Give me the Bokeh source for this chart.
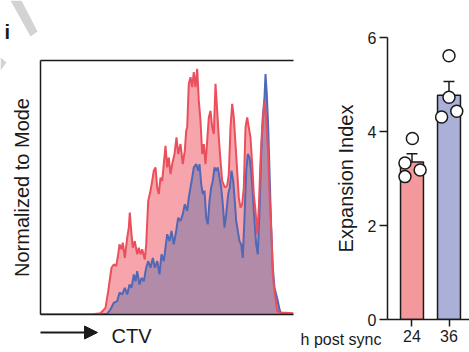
import numpy as np
from bokeh.plotting import figure
from bokeh.models import Range1d, LinearAxis, FixedTicker, Whisker, TeeHead, ColumnDataSource
from bokeh.core.properties import value
from bokeh.embed import file_html
from bokeh.resources import INLINE

# ---------------- data ----------------
# CTV histogram (channel, % of mode): 24 h (red) and 36 h (blue)
red_ctv = [0, 50, 60, 65, 67.7, 71, 73.3, 75.7, 77.7, 79, 81, 82.3, 84.3, 86.7, 88.3, 89.3,
           90.7, 92.3, 94.3, 96.7, 98.3, 100, 101.7, 104.3, 105.7, 107.7, 110, 111.7, 113.3,
           115, 116.7, 118.3, 120, 121.7, 123.3, 125, 126.7, 128.3, 130, 131.7, 134, 136,
           137.7, 140, 142.3, 144.3, 145.7, 146.7, 148.3, 150, 151.7, 153.3, 155, 156.7,
           158.3, 160, 161.7, 163.3, 165, 166.7, 168.3, 170, 171.7, 173.3, 175, 176.7, 178.3,
           180, 181.7, 184.3, 186.7, 188.3, 190, 191.7, 193.3, 195, 196.7, 198.3, 200, 201.7,
           203.3, 205, 206.7, 208.3, 210, 211.7, 213.3, 215, 216.7, 218.3, 220, 221.7, 224,
           225.7, 227.7, 229, 231, 232.3, 234.3, 236.7, 240, 245, 253]
red_count = [0, 0, 0.5, 2.6, 9.2, 18.4, 19.7, 19.1, 23.7, 27.6, 25.7, 28.3, 22.3, 30.2, 34.2, 40.1,
             32.9, 26.3, 28.9, 23.7, 26.3, 23.7, 25.7, 21.7, 27.6, 44.7, 48.7, 52.6, 56.6,
             57.9, 50.0, 47.4, 53.9, 52.6, 59.2, 66.4, 57.9, 61.8, 55.3, 59.2, 63.2, 69.7,
             63.2, 67.1, 59.2, 64.5, 72.4, 73.7, 90.8, 93.4, 89.5, 95.4, 89.5, 96.7,
             84.2, 76.3, 63.2, 67.1, 59.2, 68.4, 77.6, 80.2, 73.7, 71.1, 90.8, 80.2, 69.7,
             60.5, 52.6, 50.0, 50.7, 55.3, 73.7, 82.9, 77.6, 67.1, 56.6, 46.1, 42.1, 43.4,
             50.0, 73.7, 77.6, 73.7, 69.7, 59.2, 47.4, 40.8, 31.6, 42.1, 60.5, 73.7, 84.2,
             76.3, 63.2, 47.4, 31.6, 15.8, 7.9, 1.3, 0.7, 0.7, 0.5]
blue_ctv = [0, 60, 66.7, 70, 73.3, 76.7, 79, 81.7, 84.3, 86.7, 89, 91, 93.3, 95, 96.7, 99, 101,
            103.3, 105.7, 107.7, 110, 112.3, 114.3, 116.7, 119, 121, 123.3, 125, 126.7, 129,
            131, 133.3, 135.7, 137.7, 140, 142.3, 144.3, 146.7, 148.3, 150, 151.7, 153.3,
            155.7, 157.7, 159, 160.7, 162.3, 164, 165.7, 167.3, 169, 170.7, 172.3, 174,
            175.7, 177.3, 179, 180.7, 182.3, 184, 185.7, 187.7, 189.3, 191, 192.7, 194.3,
            195.7, 197.3, 199, 200.7, 202.3, 204, 205.7, 207.3, 209, 210.7, 212.3, 214,
            215.7, 217.3, 219, 220.7, 222.3, 224, 225, 226.3, 227.7, 229, 230.7, 232.3, 234,
            235.7, 237.3, 239, 240.7, 253]
blue_count = [0, 0, 0.3, 2.0, 4.6, 5.3, 8.6, 7.9, 10.5, 7.9, 11.8, 10.5, 15.8, 13.1, 17.1, 11.8, 14.4,
              13.1, 18.4, 21.0, 18.4, 22.3, 18.4, 21.0, 15.8, 23.7, 21.0, 26.3, 31.6, 28.9,
              32.9, 27.6, 32.9, 38.1, 36.8, 39.5, 43.4, 40.8, 46.0, 50.0, 53.9, 57.9,
              59.2, 56.6, 59.2, 51.3, 47.4, 48.7, 38.1, 35.5, 44.7, 50.0, 52.6, 57.9,
              56.6, 57.9, 53.9, 50.0, 43.4, 34.2, 39.5, 47.4, 50.0, 56.6, 52.6, 44.7,
              36.8, 32.9, 28.9, 27.6, 22.3, 38.1, 56.6, 63.2, 61.8, 56.6, 47.4, 36.8,
              27.6, 23.7, 40.8, 63.2, 77.6, 85.5, 94.7, 86.9, 73.7, 56.6, 34.2, 18.4, 10.5,
              7.9, 5.3, 2.0, 0.3, 0]

# Expansion index per replicate
groups = ["24", "36"]
group_pos = [1, 2]
expansion_24 = [3.85, 3.33, 3.04, 3.18]
expansion_36 = [5.61, 4.73, 4.31, 4.43]
jitter_24 = [0.01, -0.19, -0.19, 0.22]
jitter_36 = [0.0, 0.0, -0.2, 0.21]
x_group_title = "h post sync"

FONT = "Liberation Sans"
INK = "#1a1a1a"
RED_LINE = "#EC4F5C"
RED_FILL = "#F5A5AB"
BLUE_LINE = "#5068B6"
OVERLAP_FILL = "#B28BA9"
BAR_RED = "#F4999B"
BAR_BLUE = "#AAB0D8"


def place(fig, left, top):
    fig.styles = {"position": "absolute", "left": f"{left}px", "top": f"{top}px"}


# ---------------- left panel: histogram ----------------
p1 = figure(width=300, height=352, x_range=Range1d(0, 253), y_range=Range1d(0, 100),
            output_backend="svg", toolbar_location=None,
            min_border_left=40, min_border_right=7, min_border_top=60, min_border_bottom=38)
p1.outline_line_color = None
p1.grid.visible = False
p1.background_fill_color = None
p1.border_fill_color = None

p1.varea(x=red_ctv, y1=0, y2=red_count, fill_color=RED_FILL)
p1.varea(x=blue_ctv, y1=0, y2=blue_count, fill_color=OVERLAP_FILL)
p1.line(blue_ctv, blue_count, line_color=BLUE_LINE, line_width=2)
p1.line(red_ctv, red_count, line_color=RED_LINE, line_width=2)

for ax in [p1.xaxis[0], p1.yaxis[0]]:
    ax.ticker = FixedTicker(ticks=[])
    ax.axis_line_width = 1.5
    ax.axis_line_color = INK
    ax.major_tick_line_color = None
    ax.minor_tick_line_color = None
    ax.major_label_text_font_size = "0px"
p1.yaxis.axis_label = "Normalized to Mode"
p1.yaxis.axis_label_text_font = FONT
p1.yaxis.axis_label_text_font_size = "20px"
p1.yaxis.axis_label_text_font_style = "normal"
p1.yaxis.axis_label_text_color = INK
p1.yaxis.axis_label_standoff = 8
top_ax = LinearAxis(ticker=FixedTicker(ticks=[]), axis_line_width=1.5, axis_line_color=INK,
                    major_tick_line_color=None, minor_tick_line_color=None,
                    major_label_text_font_size="0px")
p1.add_layout(top_ax, "above")
place(p1, 0, 0)

# ---------------- right panel: bar chart ----------------
p2 = figure(width=169, height=352, x_range=Range1d(0.338, 2.554), y_range=Range1d(0, 6),
            output_backend="svg", toolbar_location=None,
            min_border_left=87, min_border_right=0, min_border_top=37, min_border_bottom=33)
p2.outline_line_color = None
p2.grid.visible = False
p2.background_fill_color = None
p2.border_fill_color = None

reps = [expansion_24, expansion_36]
means = [float(np.mean(r)) for r in reps]
sems = [float(np.std(r, ddof=1) / np.sqrt(len(r))) for r in reps]

p2.vbar(x=group_pos, top=means, width=0.62, bottom=0,
        fill_color=[BAR_RED, BAR_BLUE], line_color=INK, line_width=1.5)

wsrc = ColumnDataSource(dict(x=group_pos,
                             upper=[m + s for m, s in zip(means, sems)],
                             lower=[m - s for m, s in zip(means, sems)]))
p2.add_layout(Whisker(base="x", upper="upper", lower="lower", source=wsrc,
                      line_color=INK, line_width=1.5,
                      upper_head=TeeHead(size=11, line_color=INK, line_width=1.5),
                      lower_head=TeeHead(size=11, line_color=INK, line_width=1.5)))

px = [group_pos[0] + j for j in jitter_24] + [group_pos[1] + j for j in jitter_36]
py = expansion_24 + expansion_36
p2.scatter(px, py, size=12, fill_color="white", line_color=INK, line_width=1.5)

p2.yaxis.ticker = FixedTicker(ticks=[0, 2, 4, 6])
p2.yaxis.axis_label = "Expansion Index"
p2.yaxis.axis_label_text_font = FONT
p2.yaxis.axis_label_text_font_size = "20px"
p2.yaxis.axis_label_text_font_style = "normal"
p2.yaxis.axis_label_text_color = INK
p2.yaxis.axis_label_standoff = 8
p2.yaxis.major_label_standoff = 3
p2.yaxis.major_tick_out = 8
p2.xaxis.ticker = FixedTicker(ticks=group_pos)
p2.xaxis.major_label_overrides = {1: groups[0], 2: groups[1]}
p2.xaxis.major_label_standoff = 3
p2.xaxis.major_tick_out = 7
for ax in [p2.xaxis[0], p2.yaxis[0]]:
    ax.axis_line_width = 1.5
    ax.axis_line_color = INK
    ax.major_tick_line_color = INK
    ax.major_tick_line_width = 1.5
    ax.major_tick_in = 0
    ax.minor_tick_line_color = None
    ax.major_label_text_font = FONT
    ax.major_label_text_font_size = "16px"
    ax.major_label_text_color = INK
place(p2, 300, 0)

# ---------------- page decorations (panel letter, CTV arrow, group title) ----------------
d = figure(width=469, height=352, x_range=Range1d(0, 469), y_range=Range1d(352, 0),
           output_backend="svg", toolbar_location=None,
           x_axis_location=None, y_axis_location=None, min_border=0)
d.outline_line_color = None
d.grid.visible = False
d.background_fill_color = None
d.border_fill_color = None
d.patches(xs=[[10, 21, 37, 30], [0, 6, 0]], ys=[[0, 0, 31, 36], [57, 62, 70]],
          fill_color="#D3D3D3", line_color=None)
d.text(x=[4], y=[31], text=["i"], text_font=value(FONT), text_font_size="20px",
       text_font_style="bold", text_color=INK, text_baseline="alphabetic")
d.segment(x0=[40], y0=[332], x1=[86], y1=[332], line_color=INK, line_width=2)
d.patch(x=[84, 97, 84], y=[325.5, 332, 338.5], fill_color=INK, line_color=INK)
d.text(x=[111], y=[335], text=["CTV"], text_font=value(FONT), text_font_size="20px",
       text_color=INK, text_baseline="middle", text_align="left")
d.text(x=[381], y=[338.5], text=[x_group_title], text_font=value(FONT), text_font_size="16px",
       text_color=INK, text_baseline="middle", text_align="right")
place(d, 0, 0)

open("out.html", "w").write(file_html([p1, p2, d], INLINE))
